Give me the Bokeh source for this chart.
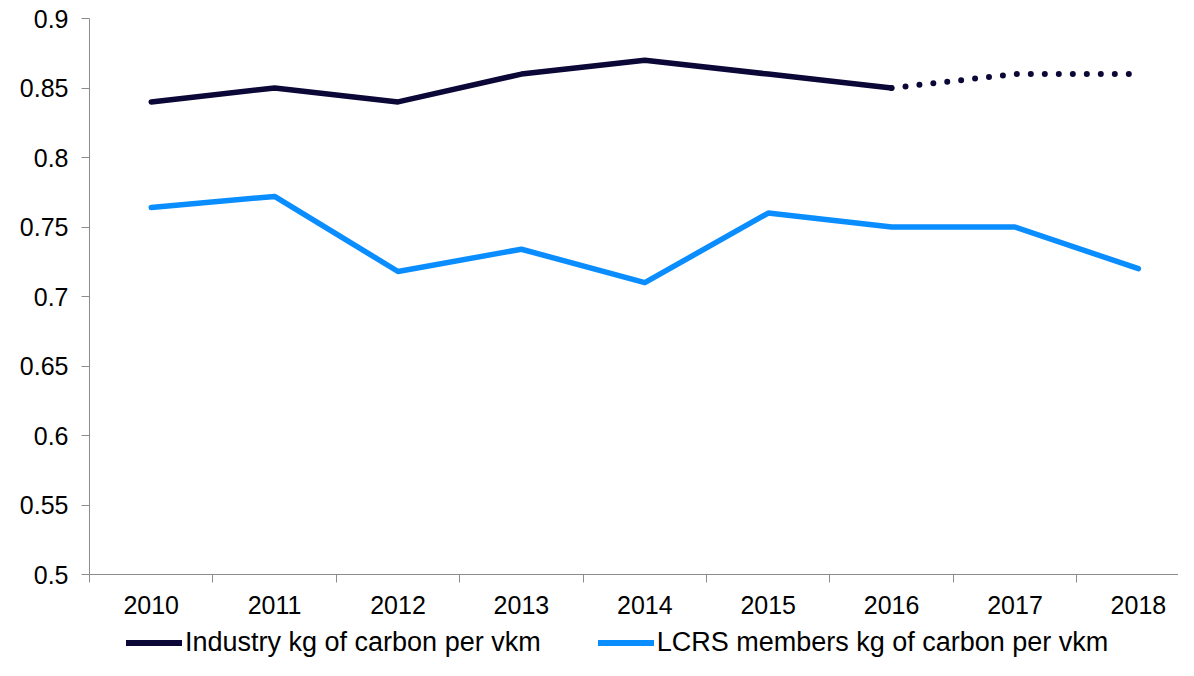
from bokeh.plotting import figure
from bokeh.layouts import column
from bokeh.models import Range1d, FixedTicker, Legend, LegendItem, CustomJSTickFormatter
from bokeh.embed import file_html
from bokeh.resources import INLINE

years = ["2010", "2011", "2012", "2013", "2014", "2015", "2016", "2017", "2018"]
industry_actual = [0.84, 0.85, 0.84, 0.86, 0.87, 0.86, 0.85]          # 2010-2016
industry_projected = [0.85, 0.86, 0.86]                               # 2016-2018
lcrs = [0.764, 0.772, 0.718, 0.734, 0.710, 0.760, 0.750, 0.750, 0.720]
y_ticks = [0.5, 0.55, 0.6, 0.65, 0.7, 0.75, 0.8, 0.85, 0.9]
series_names = ["Industry kg of carbon per vkm", "LCRS members kg of carbon per vkm"]

NAVY = "#0b0736"
BLUE = "#0a8dff"
AXIS = "#8c8c8c"
FONT = "Liberation Sans"

centers = [i + 0.5 for i in range(len(years))]
bounds = list(range(len(years) + 1))

p = figure(width=1178, height=624, output_backend="svg", toolbar_location=None,
           x_range=Range1d(0, 8.825), y_range=Range1d(0.5, 0.9),
           min_border_left=89, min_border_right=0, min_border_top=18, min_border_bottom=50)
p.outline_line_color = None
p.xgrid.visible = False
p.ygrid.visible = False
p.background_fill_color = "white"
p.border_fill_color = "white"

x_act = centers[:len(industry_actual)]
x_proj = centers[len(industry_actual) - 1:len(industry_actual) - 1 + len(industry_projected)]

p.line(x_act, industry_actual, line_color=NAVY, line_width=5.5,
       line_cap="round", line_join="round")
p.line(x_proj, industry_projected, line_color=NAVY, line_width=6,
       line_cap="round", line_dash="0 14")
p.line(centers, lcrs, line_color=BLUE, line_width=5.5,
       line_cap="round", line_join="round")

# x axis
xa = p.xaxis[0]
xa.ticker = FixedTicker(ticks=centers, minor_ticks=bounds)
xa.formatter = CustomJSTickFormatter(args=dict(years=years),
                                     code="return years[Math.floor(tick)];")
xa.major_tick_line_color = None
xa.major_tick_in = 0
xa.major_tick_out = 8
xa.minor_tick_line_color = AXIS
xa.minor_tick_in = 0
xa.minor_tick_out = 8
xa.axis_line_color = AXIS
xa.axis_line_width = 1
xa.major_label_text_font = FONT
xa.major_label_text_font_size = "25px"
xa.major_label_text_color = "black"
xa.major_label_standoff = 13

# y axis
ya = p.yaxis[0]
ya.ticker = FixedTicker(ticks=y_ticks, minor_ticks=[])
ya.formatter = CustomJSTickFormatter(code="return String(Math.round(tick*100)/100);")
ya.major_tick_line_color = AXIS
ya.major_tick_in = 0
ya.major_tick_out = 8
ya.minor_tick_line_color = None
ya.axis_line_color = AXIS
ya.major_label_text_font = FONT
ya.major_label_text_font_size = "25px"
ya.major_label_text_color = "black"
ya.major_label_standoff = 13

# legend strip below the chart (its series sit outside its visible range)
lg = figure(width=1178, height=36, output_backend="svg", toolbar_location=None,
            x_range=Range1d(0, 8.825), y_range=Range1d(5, 6),
            x_axis_type=None, y_axis_type=None,
            min_border_left=89, min_border_right=0, min_border_top=0, min_border_bottom=0)
lg.outline_line_color = None
lg.xgrid.visible = False
lg.ygrid.visible = False
k1 = lg.line(x_act, industry_actual, line_color=NAVY, line_width=6, line_cap="round")
k2 = lg.line(centers, lcrs, line_color=BLUE, line_width=6, line_cap="round")
legend = Legend(items=[
    LegendItem(label=series_names[0], renderers=[k1]),
    LegendItem(label=series_names[1], renderers=[k2]),
], location=(37, 2), orientation="horizontal",
    label_text_font=FONT, label_text_font_size="27px", label_text_color="black",
    glyph_width=56, glyph_height=27, label_height=27, label_standoff=3,
    spacing=57, padding=0, margin=0, border_line_color=None,
    background_fill_alpha=0)
lg.add_layout(legend, "center")

open("out.html", "w").write(file_html(column(p, lg), INLINE))
